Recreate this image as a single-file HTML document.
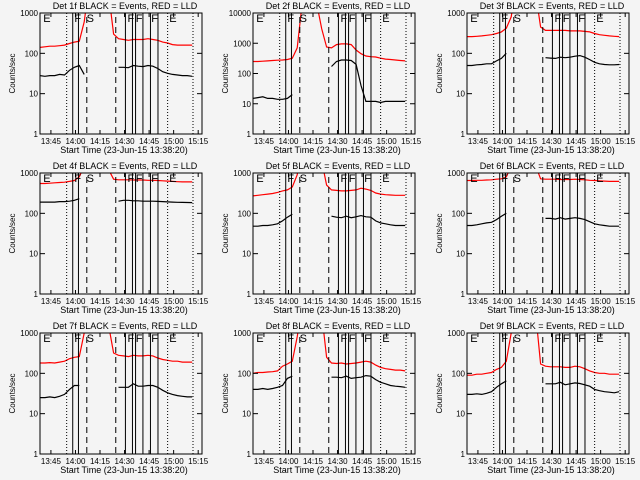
<!DOCTYPE html>
<html><head><meta charset="utf-8">
<style>
body{margin:0;background:#f4f4f4;}
svg{display:block;font-family:"Liberation Sans",sans-serif;}
</style></head>
<body>
<svg id="c" width="640" height="480" viewBox="0 0 640 480"></svg>
<script>
// time in minutes after 13:38:20
const times = [0,3,6,9,12,15,18,21,24,27,30,33,36,39,42,45,48,51,54,57,60,63,66,69,72,75,78,81,84,87,90,93];
const xTickLabels = ["13:45","14:00","14:15","14:30","14:45","15:00","15:15"];
const xTickMinutes = [6.67,21.67,36.67,51.67,66.67,81.67,96.67];
const dottedLines = [16.3,78,93.5];
const solidLines = [20,23.5,52.2,56.5,58.4,62.9,67.5,72.1];
const dashedLines = [28.6,46.3];
const markerLetters = ["E","F","S","F","F","F","E"];
const markerMinutes = [2,21,28.5,53.5,58.5,68,79];
const titles = ["Det 1f","Det 2f","Det 3f","Det 4f","Det 5f","Det 6f","Det 7f","Det 8f","Det 9f"];
const yMaxDecade = [3,4,3,3,3,3,3,3,3];
const N = null;
const black1 = [28,27,28,28,30,29,38,45,50,30,N,N,N,N,N,N,45,45,44,50,48,47,50,48,42,35,32,30,29,28,28,27];
const red1 = [140,145,150,150,155,160,175,190,200,600,5000,5000,5000,5000,3000,300,230,220,210,220,220,220,230,220,210,190,180,165,160,160,160,160];
const black2 = [15,16,17,15,15,14,14,15,20,N,N,N,N,N,N,N,170,250,280,280,270,200,40,12,12,12,11,12,12,12,12,12];
const red2 = [250,250,255,260,270,275,280,290,320,700,20000,20000,20000,20000,3000,750,700,900,950,950,900,600,450,380,360,350,320,300,290,280,270,260];
const black3 = [50,50,52,53,55,55,65,75,100,N,N,N,N,N,N,N,78,76,75,80,78,80,85,88,80,70,60,55,53,52,52,53];
const red3 = [260,260,265,270,280,290,310,340,420,800,5000,5000,5000,5000,3000,450,370,370,370,370,370,360,360,360,350,340,310,290,280,270,265,260];
const black4 = [190,190,190,190,195,195,200,210,230,N,N,N,N,N,N,N,200,210,210,205,205,200,200,200,198,195,192,190,188,187,186,185];
const red4 = [550,550,560,570,580,590,620,650,800,1500,5000,5000,5000,5000,1200,700,680,680,680,670,670,670,660,660,650,640,630,620,610,600,600,600];
const black5 = [48,48,50,50,52,55,65,80,95,N,N,N,N,N,N,N,85,80,78,85,78,82,88,82,80,65,58,55,52,50,50,50];
const red5 = [270,280,290,300,310,330,360,380,450,900,5000,5000,5000,5000,2000,500,380,370,360,360,370,380,420,400,370,320,300,290,285,280,280,280];
const black6 = [50,50,52,55,58,60,70,85,100,N,N,N,N,N,N,N,75,75,72,78,72,75,78,75,70,62,55,52,50,48,48,48];
const red6 = [650,650,660,660,670,680,700,720,800,1500,5000,5000,5000,5000,1500,720,700,700,700,690,690,690,700,690,680,660,650,640,630,620,620,620];
const black7 = [25,25,26,25,27,30,40,50,50,N,N,N,N,N,N,N,45,45,45,55,48,48,50,50,45,38,33,30,28,27,26,26];
const red7 = [180,180,185,180,190,200,230,250,260,1000,5000,5000,5000,5000,1500,320,280,270,260,280,270,270,280,270,240,220,210,200,200,190,190,190];
const black8 = [40,40,42,40,42,45,50,75,85,N,N,N,N,N,N,N,80,80,78,85,75,78,80,88,85,70,60,55,50,48,47,45];
const red8 = [100,105,105,108,110,115,150,170,200,800,5000,5000,5000,5000,3000,250,180,175,180,170,175,180,190,200,190,160,140,130,125,120,120,115];
const black9 = [30,30,31,30,32,35,45,55,65,N,N,N,N,N,N,N,55,55,55,60,52,55,58,56,52,48,40,37,35,34,33,35];
const red9 = [90,90,95,95,100,105,125,140,200,1000,5000,5000,5000,5000,3000,170,150,145,145,145,140,140,150,145,130,115,105,100,100,95,95,95];
const blackSeries = [black1,black2,black3,black4,black5,black6,black7,black8,black9];
const redSeries = [red1,red2,red3,red4,red5,red6,red7,red8,red9];

const NS="http://www.w3.org/2000/svg";
const svg=document.getElementById('c');
function mk(tag,attrs,parent){const e=document.createElementNS(NS,tag);for(const k in attrs)e.setAttribute(k,attrs[k]);parent.appendChild(e);return e;}
const L=40,R=202,T=13,B=134,XMAX=99;
for(let p=0;p<9;p++){
  const ox=Math.round((p%3)*213.33), oy=Math.floor(p/3)*160;
  const g=mk('g',{transform:`translate(${ox},${oy})`},svg);
  
  
  const dmax=yMaxDecade[p];
  const xs=m=>L+(R-L)*m/XMAX;
  const ys=v=>B-(B-T)*Math.log10(v)/dmax;
  const clipId='clip'+p;
  const cp=mk('clipPath',{id:clipId},g);
  mk('rect',{x:L,y:T,width:R-L,height:B-T},cp);
  const t=mk('text',{x:(L+R)/2+4,y:9,'font-size':9,'text-anchor':'middle',fill:'#000'},g);
  t.textContent=titles[p]+" BLACK = Events, RED = LLD";
  
  
  const lines=mk('g',{'clip-path':`url(#${clipId})`},g);
  [[redSeries[p],'#ff0000','red-lld-series'],[blackSeries[p],'#000','black-events-series']].forEach(([arr,col,nm])=>{
    let d='',pen=false;
    arr.forEach((v,i)=>{if(v===null){pen=false;return;}d+=(pen?'L':'M')+xs(times[i]).toFixed(1)+' '+ys(v).toFixed(1)+' ';pen=true;});
    const pa=mk('path',{d:d,fill:'none',stroke:col,'stroke-width':1.2},lines);
    
    
  });
  dottedLines.forEach(m=>{const l=mk('line',{x1:xs(m),x2:xs(m),y1:T,y2:B,stroke:'#000','stroke-dasharray':'1,2'},g);
    });
  solidLines.forEach(m=>{const l=mk('line',{x1:xs(m),x2:xs(m),y1:T,y2:B,stroke:'#000'},g);
    });
  dashedLines.forEach(m=>{const l=mk('line',{x1:xs(m),x2:xs(m),y1:T+4,y2:B,stroke:'#000','stroke-dasharray':'6,4'},g);
    });
  markerLetters.forEach((s,i)=>{const e=mk('text',{x:xs(markerMinutes[i]),y:T+9,'font-size':11,fill:'#000'},g);e.textContent=s;
    });
  const bx=mk('rect',{x:L,y:T,width:R-L,height:B-T,fill:'none',stroke:'#000'},g);
  
  xTickMinutes.forEach((m,i)=>{const x=xs(m);
    mk('line',{x1:x,x2:x,y1:B,y2:B-4,stroke:'#000'},g);mk('line',{x1:x,x2:x,y1:T,y2:T+4,stroke:'#000'},g);
    const e=mk('text',{x:x,y:B+10,'font-size':8,'text-anchor':'middle',fill:'#000'},g);e.textContent=xTickLabels[i];
    });
  const xt=mk('text',{x:(L+R)/2+3,y:153,'font-size':9,'text-anchor':'middle',fill:'#000'},g);
  xt.textContent="Start Time (23-Jun-15 13:38:20)";
  
  for(let d=0;d<=dmax;d++){const v=Math.pow(10,d),y=ys(v);
    mk('line',{x1:L,x2:L+5,y1:y,y2:y,stroke:'#000'},g);mk('line',{x1:R,x2:R-5,y1:y,y2:y,stroke:'#000'},g);
    const e=mk('text',{x:L-2,y:y+3,'font-size':8,'text-anchor':'end',fill:'#000'},g);e.textContent=String(v);
    }
  const yt=mk('text',{x:0,y:0,'font-size':8,'text-anchor':'middle',fill:'#000',transform:`translate(15,${(T+B)/2}) rotate(-90)`},g);
  yt.textContent="Counts/sec";
  
}
</script>
</body></html>
